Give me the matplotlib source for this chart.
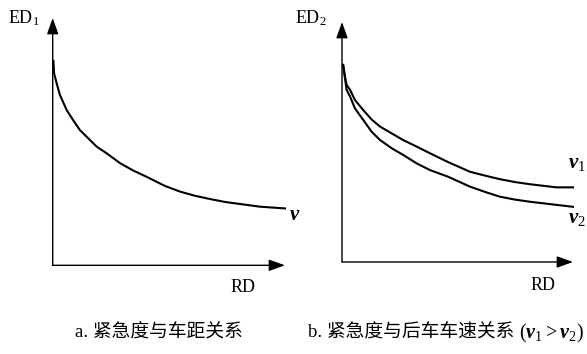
import matplotlib
matplotlib.use("Agg")
import matplotlib.pyplot as plt

plt.rcParams['font.family'] = ['Liberation Serif', 'Noto Sans CJK SC']
plt.rcParams['mathtext.fontset'] = 'custom'
plt.rcParams['mathtext.rm'] = 'Liberation Serif'
plt.rcParams['mathtext.it'] = 'Liberation Serif:italic:bold'

# Panel a: emergency degree vs. relative distance
rd_a = [0.3, 0.6, 1.7, 3.1, 6.0, 8.8, 11.7, 16.0, 18.9, 23.2, 29.0, 34.7, 40.4,
        48.3, 54.8, 61.3, 67.7, 74.2, 80.6, 89.2, 100]
ed_a = [82.7, 77.6, 73.6, 68.9, 62.8, 58.7, 54.7, 50.7, 48.0, 45.3, 41.3, 38.3, 35.8,
        32.1, 29.8, 28.1, 26.8, 25.6, 24.8, 23.7, 23.0]

# Panel b: emergency degree vs. rear vehicle speed (v1 > v2)
rd_b = [0.5, 1.3, 2.0, 3.5, 5.6, 9.2, 12.8, 16.5, 21.5, 26.5, 32.3, 38.1, 46.0,
        55.4, 61.9, 68.4, 74.9, 81.4, 92.9, 100]
ed_v1 = [82.1, 77.2, 73.8, 71.7, 67.5, 63.3, 59.4, 56.4, 53.6, 50.8, 48.1, 45.3, 41.6,
         37.6, 36.0, 34.5, 33.3, 32.4, 31.1, 31.1]
ed_v2 = [82.1, 76.5, 71.7, 68.9, 64.0, 59.2, 54.3, 50.8, 47.4, 44.6, 41.1, 38.3, 35.5,
         31.4, 29.2, 27.2, 26.0, 25.1, 23.8, 23.0]

W, H = 587, 354
fig = plt.figure(figsize=(W / 100, H / 100), dpi=100)


def px_ax(x0, y0, x1, y1):
    return fig.add_axes([x0 / W, 1 - y0 / H, (x1 - x0) / W, (y0 - y1) / H])


def draw_axes(ax):
    ax.set_xlim(0, 100)
    ax.set_ylim(0, 100)
    ax.axis('off')
    ap = dict(arrowstyle='-|>,head_length=0.7,head_width=0.25', lw=1.0, color='black',
              shrinkA=0, shrinkB=0, mutation_scale=14)
    ax.annotate('', xy=(1, 0), xytext=(0, 0), xycoords='axes fraction', arrowprops=ap)
    ax.annotate('', xy=(0, 1), xytext=(0, 0), xycoords='axes fraction', arrowprops=ap)


axa = px_ax(52.7, 265.3, 285, 18)
draw_axes(axa)
axa.plot(rd_a, ed_a, color='black', lw=1.5, clip_on=False)

axb = px_ax(342, 262, 573, 22)
draw_axes(axb)
axb.plot(rd_b, ed_v1, color='black', lw=1.5, clip_on=False)
axb.plot(rd_b, ed_v2, color='black', lw=1.5, clip_on=False)


def ftext(x, y, s, **kw):
    kw.setdefault('fontsize', 13)
    return fig.text(x / W, 1 - y / H, s, **kw)


ftext(8, 18, 'ED$_1$', ha='left', va='center')
ftext(295, 18, 'ED$_2$', ha='left', va='center')
ftext(243, 287, 'RD', ha='center', va='center')
ftext(543, 286, 'RD', ha='center', va='center')
ftext(295, 216, r'$v$', ha='center', va='center', fontsize=15)
ftext(577, 164, r'$v_1$', ha='center', va='center', fontsize=15)
ftext(577, 218, r'$v_2$', ha='center', va='center', fontsize=15)

ftext(75, 333, 'a. 紧急度与车距关系', ha='left', va='center', fontsize=13.5)
t = ftext(308, 333, 'b. 紧急度与后车车速关系 ', ha='left', va='center', fontsize=13.5)
m = ftext(0, 333, r'$(v_1 > v_2)$', ha='left', va='center', fontsize=14.5)

fig.canvas.draw()
bb = t.get_window_extent()
m.set_position((bb.x1 / W, 1 - 333 / H))

fig.savefig('out.png', dpi=100)
